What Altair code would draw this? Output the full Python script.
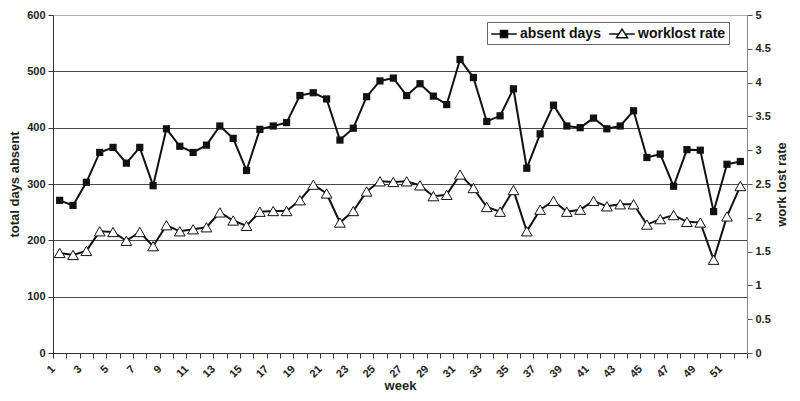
import altair as alt
import pandas as pd

weeks = list(range(1, 53))
absent_days = [271, 262, 303, 356, 365, 337, 365, 297, 398, 367, 356, 369, 403,
               381, 324, 397, 403, 409, 457, 462, 451, 378, 399, 455, 483, 488,
               457, 478, 456, 441, 521, 489, 411, 421, 469, 328, 389, 440, 403,
               400, 417, 398, 403, 430, 347, 353, 296, 361, 360, 251, 335, 340]
worklost_rate = [1.48, 1.45, 1.51, 1.80, 1.79, 1.66, 1.79, 1.58, 1.89, 1.80, 1.83, 1.86, 2.08,
                 1.96, 1.88, 2.09, 2.10, 2.10, 2.26, 2.49, 2.36, 1.93, 2.10, 2.39, 2.54, 2.53,
                 2.54, 2.48, 2.32, 2.34, 2.64, 2.44, 2.16, 2.09, 2.41, 1.80, 2.12, 2.25, 2.09,
                 2.12, 2.25, 2.17, 2.20, 2.20, 1.90, 1.98, 2.04, 1.94, 1.93, 1.38, 2.02, 2.47]
series_names = ["absent days", "worklost rate"]
left_ticks = [0, 100, 200, 300, 400, 500, 600]
right_ticks = [0, 0.5, 1, 1.5, 2, 2.5, 3, 3.5, 4, 4.5, 5]
week_boundaries = [i + 0.5 for i in range(0, 53)]

FONT = "Liberation Sans"
INK = "#111111"

df_abs = pd.DataFrame({"week": weeks, "days": absent_days})
df_rate = pd.DataFrame({"week": weeks, "rate": worklost_rate})
df_leg = pd.DataFrame({"series": series_names})

x_enc = alt.X(
    "week:Q",
    scale=alt.Scale(domain=[0.5, 52.5], nice=False, zero=False),
    axis=alt.Axis(
        values=week_boundaries,
        labelExpr="((datum.value + 0.5) % 2 == 1 && datum.value < 52) ? format(datum.value + 0.5, 'd') : ''",
        labelAngle=315, labelAlign="right", labelBaseline="middle",
        labelOverlap=False, labelPadding=9, labelBound=False,
        tickSize=5, tickColor="#333", domainColor="#333",
        grid=False, title="week", titlePadding=0, titleFontSize=13,
    ),
)

y_left = alt.Y(
    "days:Q",
    scale=alt.Scale(domain=[0, 600], nice=False),
    axis=alt.Axis(
        values=left_ticks, format="d", orient="left",
        title="total days absent", titlePadding=5,
        tickSize=5, tickColor="#333", domainColor="#333", labelPadding=3,
        grid=True,
        gridColor={"condition": {"test": "datum.value == 600", "value": "#b0b0b0"}, "value": "#4a4a4a"},
        gridWidth=1,
    ),
)

y_right = alt.Y(
    "rate:Q",
    scale=alt.Scale(domain=[0, 5], nice=False),
    axis=alt.Axis(
        values=right_ticks, format="~g", orient="right",
        title="work lost rate", titleAngle=270, titleBaseline="top", titlePadding=5,
        tickSize=5, tickColor="#555", domainColor="#888", labelPadding=3,
        grid=False,
    ),
)

line_abs = alt.Chart(df_abs).mark_line(color=INK, strokeWidth=2).encode(x=x_enc, y=y_left)
pts_abs = alt.Chart(df_abs).mark_point(shape="square", filled=True, size=52, color=INK, opacity=1).encode(x=x_enc, y=y_left)
left = alt.layer(line_abs, pts_abs)

line_rate = alt.Chart(df_rate).mark_line(color=INK, strokeWidth=2).encode(x=x_enc, y=y_right)
pts_rate = alt.Chart(df_rate).mark_point(shape="triangle-up", filled=True, fill="white", stroke=INK,
                                         strokeWidth=1, size=115, opacity=1).encode(x=x_enc, y=y_right)
right = alt.layer(line_rate, pts_rate)

shape_paths = [
    "M-1.6,0H1.6M-0.44,-0.44H0.44V0.44H-0.44Z",
    "M-1.6,0H-0.4M0.4,0H1.6M0,-0.62L0.69,0.46H-0.69Z",
]
leg_props = dict(
    orient="none", legendX=434, legendY=7, direction="horizontal", title=None,
    padding=3, symbolOffset=5, labelOffset=7, columnPadding=5,
    strokeColor="#666", fillColor="white",
    labelFont=FONT, labelFontSize=14, labelFontWeight="bold", labelColor=INK, labelLimit=300,
    symbolSize=256, symbolStrokeColor=INK, symbolStrokeWidth=1.5, symbolOpacity=1,
)
legend_layer = alt.Chart(df_leg).mark_point(filled=True, stroke=INK, strokeWidth=1.5, opacity=1).encode(
    shape=alt.Shape("series:N", scale=alt.Scale(domain=series_names, range=shape_paths),
                    legend=alt.Legend(**leg_props)),
    fill=alt.Fill("series:N", scale=alt.Scale(domain=series_names, range=["black", "white"]),
                  legend=alt.Legend(**leg_props)),
    stroke=alt.Stroke("series:N", scale=alt.Scale(domain=series_names, range=[INK, INK]),
                      legend=alt.Legend(**leg_props)),
).transform_filter("false")

chart = (
    alt.layer(left, right, legend_layer)
    .resolve_scale(y="independent")
    .properties(
        width=694, height=338,
        padding={"left": 45, "top": 7, "right": 45, "bottom": 40},
        autosize=alt.AutoSizeParams(type="none"),
    )
    .configure_view(stroke=None)
    .configure_axis(
        labelFont=FONT, labelFontSize=11, labelFontWeight="bold", labelColor="#222",
        titleFont=FONT, titleFontSize=13, titleFontWeight="bold", titleColor="#222",
    )
)

chart.save("out.html", embed_options={"renderer": "svg", "actions": False})
